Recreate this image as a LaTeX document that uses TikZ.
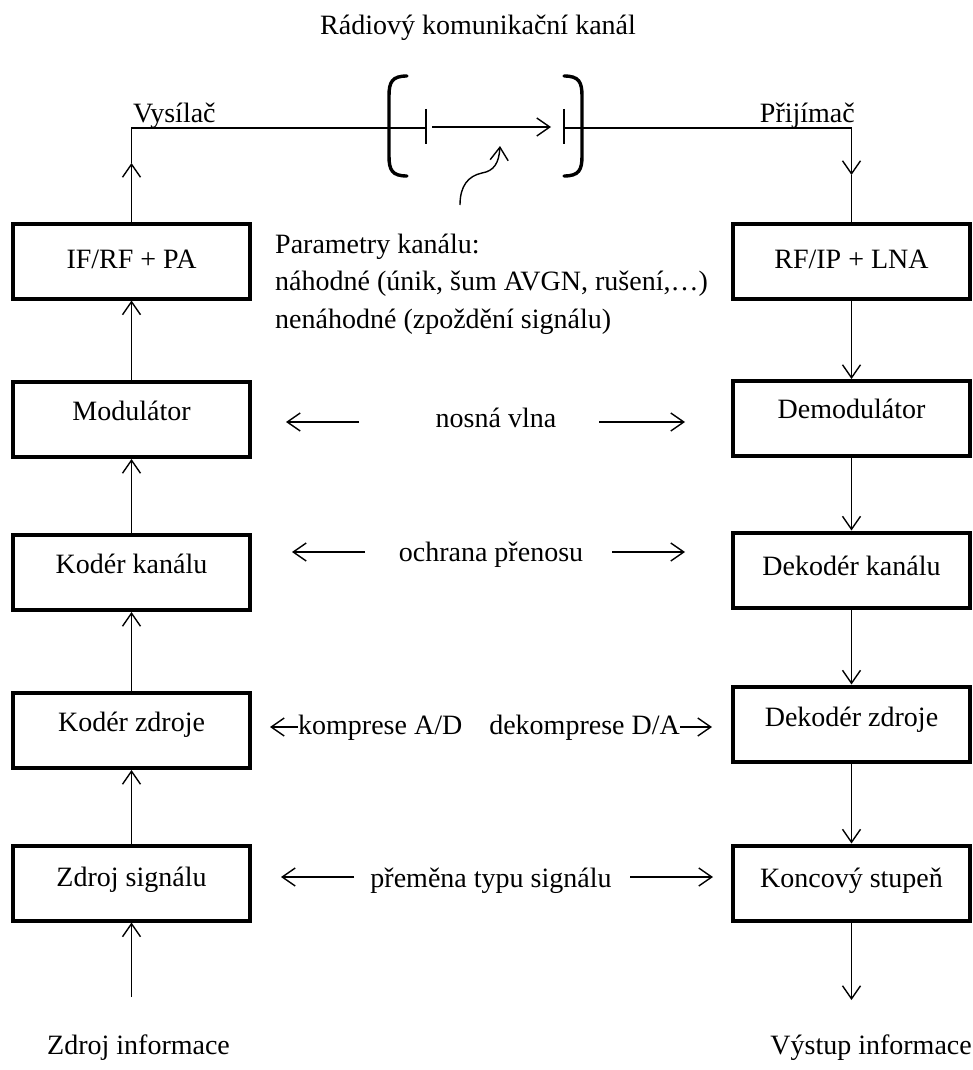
\documentclass[tikz,border=0pt]{standalone}
\usepackage{fontspec}
\setmainfont{Liberation Serif}
\usetikzlibrary{arrows.meta}
\newcommand\dfont{\fontsize{28pt}{34pt}\selectfont}
\begin{document}
\begin{tikzpicture}[x=1pt,y=-1pt,
  box/.style={draw,line width=4pt,minimum width=237pt,minimum height=75pt,inner sep=0pt,font=\dfont,text height=20pt},
  conn/.style={line width=1.4pt},
  tip/.style={-{Straight Barb[length=13pt,width=18pt,line width=1.4pt]}},
  lbl/.style={font=\dfont,inner sep=0pt},
  brk/.style={line width=3.4pt,line cap=round},
]
\useasboundingbox (0,0) rectangle (973,1070);

% boxes
\node[box,text depth=6pt]  (ifrf)  at (131.5,261)   {IF/RF + PA};
\node[box,text depth=7pt]  (rfip)  at (851.5,261.5) {RF/IP + LNA};
\node[box,text depth=19pt] (mod)   at (131.5,419.5) {Modulátor};
\node[box,text depth=21pt] (demod) at (851.5,418.5) {Demodulátor};
\node[box,text depth=19pt] (kk)    at (131.5,572.5) {Kodér kanálu};
\node[box,text depth=10pt] (dk)    at (851.5,570)   {Dekodér kanálu};
\node[box,text depth=19pt] (kz)    at (131.5,730.5) {Kodér zdroje};
\node[box,text depth=15pt] (dz)    at (851.5,724)   {Dekodér zdroje};
\node[box,text depth=14pt] (zs)    at (131.5,883)   {Zdroj signálu};
\node[box,text depth=12pt] (ks)    at (851.5,883)   {Koncový stupeň};

% top labels
\node[lbl,anchor=base] (title) at (478,35) {Rádiový komunikační kanál};
\node[lbl,anchor=base west] (vys) at (133,122) {Vysílač};
\node[lbl,anchor=base east] (prij) at (855,122) {Přijímač};

% parameters
\node[lbl,anchor=base west] (par1) at (275,253) {Parametry kanálu:};
\node[lbl,anchor=base west] (par2) at (275,290) {náhodné (únik, šum AVGN, rušení,…)};
\node[lbl,anchor=base west] (par3) at (275,328) {nenáhodné (zpoždění signálu)};

% middle labels
\node[lbl,anchor=base] (nv)  at (496,427) {nosná vlna};
\node[lbl,anchor=base] (och) at (491,561) {ochrana přenosu};
\node[lbl,anchor=base west] (komp) at (298,734) {komprese A/D};
\node[lbl,anchor=base east] (dekomp) at (680,734) {dekomprese D/A};
\node[lbl,anchor=base] (prem) at (491,887) {přeměna typu signálu};

% bottom labels
\node[lbl,anchor=base west] (zinf) at (47,1054) {Zdroj informace};
\node[lbl,anchor=base east] (vinf) at (972,1054) {Výstup informace};

% coordinates
\coordinate (cL) at (131.5,128);
\coordinate (aL) at (131.5,163);
\coordinate (tkL) at (426,128);
\coordinate (tkR) at (564,128);
\coordinate (cR) at (851.5,128);
\coordinate (aR) at (851.5,175);
\coordinate (src) at (131.5,997);
\coordinate (dst) at (851.5,1000);

% transmitter / receiver path
\draw[conn,tip] (ifrf.north) -- (aL);
\draw[conn] (aL) -- (cL) -- (tkL);
\draw[conn] (tkR) -- (cR);
\draw[conn,tip] (cR) -- (aR);
\draw[conn] (aR) -- (rfip.north);

% channel
\draw[brk] (407,76) .. controls (392,76) and (389,82) .. (389,96) -- (389,156) .. controls (389,170) and (392,176) .. (407,176);
\draw[brk] (564,76) .. controls (579,76) and (582,82) .. (582,96) -- (582,156) .. controls (582,170) and (579,176) .. (564,176);
\draw[conn] (426,109) -- (426,144);
\draw[conn] (564,109) -- (564,144);
\coordinate (chA) at (432,127);
\coordinate (chB) at (551,127);
\draw[conn,tip] (chA) -- (chB);
\coordinate (wvA) at (460,205);
\coordinate (wvB) at (500,146);
\draw[conn,tip] (wvA) .. controls (460,186) and (468,176) .. (482,173) .. controls (494,171) and (499,163) .. (wvB);

% vertical chains
\draw[conn,tip] (mod.north) -- (ifrf.south);
\draw[conn,tip] (kk.north) -- (mod.south);
\draw[conn,tip] (kz.north) -- (kk.south);
\draw[conn,tip] (zs.north) -- (kz.south);
\draw[conn,tip] (src) -- (zs.south);
\draw[conn,tip] (rfip.south) -- (demod.north);
\draw[conn,tip] (demod.south) -- (dk.north);
\draw[conn,tip] (dk.south) -- (dz.north);
\draw[conn,tip] (dz.south) -- (ks.north);
\draw[conn,tip] (ks.south) -- (dst);

% horizontal arrows
\draw[conn,tip] (359,422) -- (286,422);
\draw[conn,tip] (599,422) -- (685,422);
\draw[conn,tip] (365,552) -- (292,552);
\draw[conn,tip] (612,552) -- (685,552);
\draw[conn,tip] (komp.base west) ++(0,-7) -- ++(-28,0);
\draw[conn,tip] (dekomp.base east) ++(0,-7) -- ++(32,0);
\draw[conn,tip] (354,877) -- (281,877);
\draw[conn,tip] (630,877) -- (713,877);
\end{tikzpicture}
\end{document}
